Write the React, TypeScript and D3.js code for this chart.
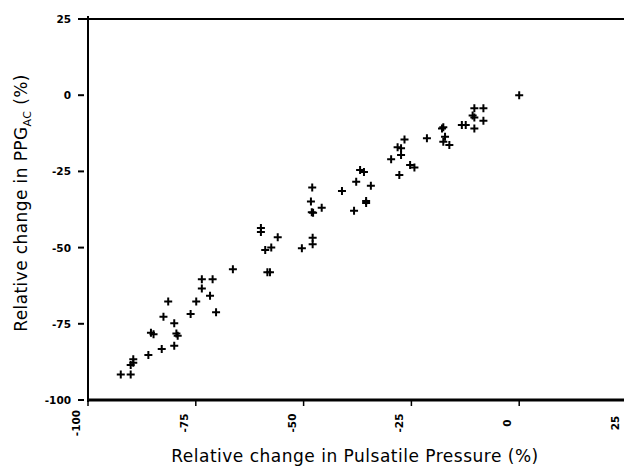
import React from "react";
import * as d3 from "d3";

const xValues = [
  0, -10.4, -8.3, -10.8, -10.4, -8.3, -13.3, -12.4, -10.4, -17.9, -17.6, -17.2, -17.6, -16.2,
  -21.4, -26.6, -28.2, -27.4, -27.4, -29.7, -25.3, -24.3, -27.8, -36.9, -36.0, -37.8, -34.4,
  -41.1, -48.0, -48.3, -48.1, -47.8, -45.8, -35.5, -35.5, -38.3, -47.9, -47.9, -50.4, -56.0,
  -59.9, -59.9, -58.9, -57.5, -66.4, -58.4, -57.8, -73.6, -71.1, -73.6, -71.7, -81.4, -74.9,
  -82.5, -76.2, -70.3, -80.0, -85.4, -84.8, -79.2, -79.5, -82.9, -80.0, -86.0, -89.5, -89.5,
  -90.1, -92.4, -90.1,
];
const yValues = [
  0, -4.3, -4.3, -6.7, -7.3, -8.4, -9.8, -9.8, -10.9, -10.9, -10.5, -13.6, -15.3, -16.3,
  -14.1, -14.5, -17.1, -17.4, -19.6, -21.0, -22.9, -23.7, -26.2, -24.5, -25.2, -28.4, -29.7,
  -31.4, -30.3, -34.9, -38.4, -38.6, -36.9, -34.7, -35.4, -37.9, -46.8, -48.9, -50.2, -46.6,
  -43.6, -44.9, -50.8, -50.0, -57.1, -58.1, -58.1, -60.4, -60.4, -63.4, -65.8, -67.7, -67.7,
  -72.7, -71.8, -71.2, -74.8, -77.9, -78.4, -78.9, -78.2, -83.3, -82.2, -85.2, -86.6, -87.8,
  -88.5, -91.6, -91.6,
];
const xTicks = [-100, -75, -50, -25, 0, 25];
const yTicks = [25, 0, -25, -50, -75, -100];
const xTitle = "Relative change in Pulsatile Pressure (%)";
const yTitleMain = "Relative change in PPG";
const yTitleSub = "AC";
const yTitleEnd = " (%)";

export default function App() {
  const W = 624;
  const H = 468;
  const x = d3.scaleLinear().domain([-100, 25]).range([88, 627]);
  const y = d3.scaleLinear().domain([-100, 25]).range([400, 19]);
  const points = xValues.map((v, i) => ({ x: v, y: yValues[i] }));
  const tickFont = "'DejaVu Sans', Verdana, sans-serif";

  return (
    <svg
      width={W}
      height={H}
      style={{ position: "absolute", left: 0, top: 0, background: "#fff" }}
    >
      <rect width={W} height={H} fill="#fff" />
      {/* top frame line */}
      <line x1={78} x2={W} y1={y(25)} y2={y(25)} stroke="#000" strokeWidth={2} />
      {/* y axis */}
      <line x1={x(-100)} x2={x(-100)} y1={16} y2={402} stroke="#000" strokeWidth={2} />
      {/* x axis */}
      <line x1={x(-100)} x2={W} y1={y(-100)} y2={y(-100)} stroke="#000" strokeWidth={3} />

      {yTicks.map((t) => (
        <g key={"y" + t}>
          <line x1={78} x2={84} y1={y(t)} y2={y(t)} stroke="#000" strokeWidth={2} />
          <text
            x={71}
            y={y(t) + 4}
            textAnchor="end"
            fontFamily={tickFont}
            fontWeight="bold"
            fontSize={10.5}
            fill="#000"
          >
            {t}
          </text>
        </g>
      ))}

      {xTicks.map((t) => (
        <g key={"x" + t}>
          {x(t) < W && (
            <line x1={x(t)} x2={x(t)} y1={y(-100)} y2={y(-100) + 6} stroke="#000" strokeWidth={1.5} />
          )}
          <text
            transform={`translate(${x(t) - 8},423) rotate(-90)`}
            textAnchor="middle"
            fontFamily={tickFont}
            fontWeight="bold"
            fontSize={10.5}
            fill="#000"
          >
            {t}
          </text>
        </g>
      ))}

      {points.map((p, i) => (
        <path
          key={i}
          d={`M${x(p.x) - 4},${y(p.y)}h8M${x(p.x)},${y(p.y) - 4}v8`}
          stroke="#000"
          strokeWidth={2}
          fill="none"
        />
      ))}

      <text
        x={355}
        y={462}
        textAnchor="middle"
        fontFamily={tickFont}
        fontSize={17}
        letterSpacing={0.5}
        fill="#000"
      >
        {xTitle}
      </text>
      <text
        transform="translate(27,203) rotate(-90)"
        textAnchor="middle"
        fontFamily={tickFont}
        fontSize={17}
        letterSpacing={0.4}
        fill="#000"
      >
        {yTitleMain}
        <tspan fontSize={11} dy={4}>
          {yTitleSub}
        </tspan>
        <tspan dy={-4}>{yTitleEnd}</tspan>
      </text>
    </svg>
  );
}
